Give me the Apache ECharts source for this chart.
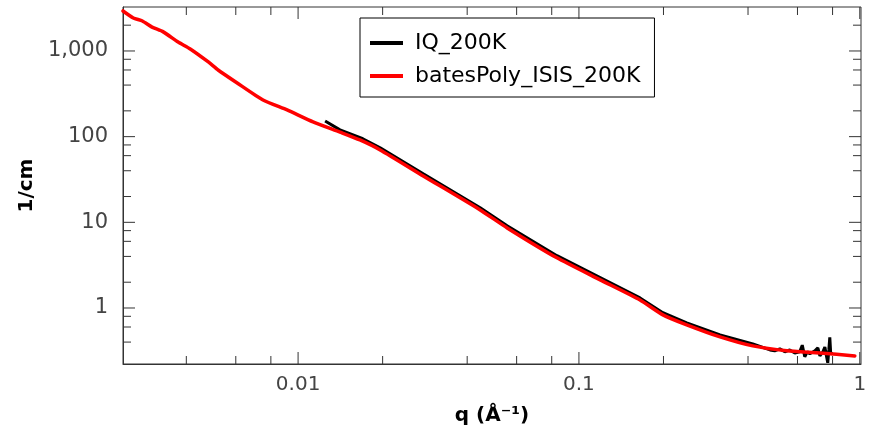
<!DOCTYPE html>
<html>
<head>
<meta charset="utf-8">
<script src="https://cdn.jsdelivr.net/npm/echarts@6/dist/echarts.min.js"></script>
<style>
	html, body { margin: 0; padding: 0; background: #fff; }
	#chart { width: 870px; height: 431px; }
</style>
</head>
<body>
<div id="chart"></div>
<script>
// measured data (IQ_200K)
var qData = [0.01248, 0.0141, 0.0170, 0.0196, 0.0279, 0.0445, 0.0555, 0.0835, 0.119, 0.165, 0.199, 0.242, 0.318, 0.416,
	0.479, 0.498, 0.519, 0.541, 0.563, 0.587, 0.611, 0.624, 0.637, 0.650, 0.664, 0.692, 0.709, 0.721,
	0.739, 0.751, 0.763, 0.769, 0.776, 0.782, 0.788, 0.795];
var iData = [152, 120, 94.5, 74, 36.9, 14.8, 9.1, 4.08, 2.26, 1.31, 0.88, 0.67, 0.485, 0.38,
	0.324, 0.316, 0.333, 0.308, 0.324, 0.299, 0.308, 0.368, 0.27, 0.308, 0.2925, 0.316, 0.342, 0.277,
	0.308, 0.351, 0.263, 0.229, 0.324, 0.455, 0.2925, 0.308];

// model fit (batesPoly_ISIS_200K)
var qModel = [0.00238, 0.00259, 0.00279, 0.00302, 0.00331, 0.00374, 0.00413, 0.00479, 0.00519, 0.00607,
	0.0075, 0.00914, 0.0113, 0.0141, 0.0166, 0.0196, 0.0279, 0.0445, 0.0555, 0.0835, 0.119, 0.165,
	0.199, 0.242, 0.318, 0.416, 0.550, 0.721, 0.96];
var iModel = [2930, 2430, 2240, 1900, 1670, 1270, 1055, 744, 600, 423,
	268, 205, 149, 113, 91.5, 70, 34.8, 13.95, 8.61, 3.85, 2.13, 1.24,
	0.832, 0.636, 0.46, 0.361, 0.316, 0.299, 0.276];

var seriesNames = ['IQ_200K', 'batesPoly_ISIS_200K'];

// axes
var xMin = 0.00238, xMax = 1.01;
var yMin = 0.222, yMax = 3260;
var xMajor = [0.01, 0.1, 1];
var xMajorLabels = ['0.01', '0.1', '1'];
var xMinor = [0.004, 0.006, 0.008, 0.02, 0.04, 0.06, 0.08, 0.2, 0.4, 0.6, 0.8];
var yMajor = [1, 10, 100, 1000];
var yMajorLabels = ['1', '10', '100', '1,000'];
var yMinor = [0.4, 0.6, 0.8, 2, 4, 6, 8, 20, 40, 60, 80, 200, 400, 600, 800, 2000];

function pickLabel(v, majors, labels) {
	for (var i = 0; i < majors.length; i++) {
		if (Math.abs(Math.log10(v) - Math.log10(majors[i])) < 1e-6) return labels[i];
	}
	return '';
}

function pairs(xs, ys) {
	return xs.map(function (x, i) { return [x, ys[i]]; });
}

var chart = echarts.init(document.getElementById('chart'));

// ticks on all four sides, major longer than minor
var xTicks = xMajor.map(function (v) { return [v, yMin, 12]; })
	.concat(xMinor.map(function (v) { return [v, yMin, 8]; }));
var yTicks = yMajor.map(function (v) { return [xMin, v, 12]; })
	.concat(yMinor.map(function (v) { return [xMin, v, 8]; }));
var tickStyle = { stroke: '#333', lineWidth: 1 };

var option = {
	animation: false,
	textStyle: { fontFamily: 'DejaVu Sans' },
	grid: {
		left: 123, right: 9, top: 7, bottom: 67,
		show: true, borderColor: '#333', borderWidth: 1
	},
	legend: {
		data: seriesNames,
		orient: 'vertical',
		left: 360, top: 18,
		icon: 'rect',
		itemWidth: 33, itemHeight: 4,
		itemGap: 11,
		padding: [14, 14, 10, 10],
		borderColor: '#000', borderWidth: 1,
		textStyle: { fontSize: 22, color: '#000', padding: [0, 0, 0, 7] }
	},
	xAxis: {
		type: 'log', logBase: 10,
		min: xMin, max: xMax,
		name: 'q (Å⁻¹)',
		nameLocation: 'middle', nameGap: 42,
		nameTextStyle: { fontSize: 20, fontWeight: 'bold', color: '#000' },
		axisLine: { show: true, lineStyle: { color: '#333', width: 1 } },
		axisTick: { show: false },
		splitLine: { show: false },
		axisLabel: {
			fontSize: 20, color: '#444', margin: 11,
			formatter: function (v) { return pickLabel(v, xMajor, xMajorLabels); }
		}
	},
	yAxis: {
		type: 'log', logBase: 10,
		min: yMin, max: yMax,
		name: '1/cm',
		nameLocation: 'middle', nameGap: 84,
		nameTextStyle: { fontSize: 20, fontWeight: 'bold', color: '#000' },
		axisLine: { show: true, lineStyle: { color: '#333', width: 1 } },
		axisTick: { show: false },
		splitLine: { show: false },
		axisLabel: {
			fontSize: 21, color: '#444', margin: 15,
			formatter: function (v) { return pickLabel(v, yMajor, yMajorLabels); }
		}
	},
	series: [
		{
			name: seriesNames[0],
			type: 'line',
			data: pairs(qData, iData),
			showSymbol: false, symbol: 'none',
			color: '#000',
			lineStyle: { color: '#000', width: 3 },
			z: 3
		},
		{
			name: seriesNames[1],
			type: 'line',
			data: pairs(qModel, iModel),
			showSymbol: false, symbol: 'none',
			smooth: 0.2,
			color: '#ff0000',
			lineStyle: { color: '#ff0000', width: 3.5, cap: 'round', join: 'round' },
			z: 4
		},
		{
			type: 'custom',
			silent: true,
			z: 5,
			encode: { x: 0, y: 1 },
			data: xTicks,
			renderItem: function (params, api) {
				var v = api.value(0), len = api.value(2);
				var b = api.coord([v, yMin]);
				var t = api.coord([v, yMax]);
				return {
					type: 'group',
					children: [
						{ type: 'line', shape: { x1: b[0], y1: b[1], x2: b[0], y2: b[1] - len }, style: tickStyle },
						{ type: 'line', shape: { x1: t[0], y1: t[1], x2: t[0], y2: t[1] + len }, style: tickStyle }
					]
				};
			}
		},
		{
			type: 'custom',
			silent: true,
			z: 5,
			encode: { x: 0, y: 1 },
			data: yTicks,
			renderItem: function (params, api) {
				var v = api.value(1), len = api.value(2);
				var l = api.coord([xMin, v]);
				var r = api.coord([xMax, v]);
				return {
					type: 'group',
					children: [
						{ type: 'line', shape: { x1: l[0], y1: l[1], x2: l[0] + len, y2: l[1] }, style: tickStyle },
						{ type: 'line', shape: { x1: r[0], y1: r[1], x2: r[0] - len, y2: r[1] }, style: tickStyle }
					]
				};
			}
		}
	]
};
chart.setOption(option);
</script>
</body>
</html>
